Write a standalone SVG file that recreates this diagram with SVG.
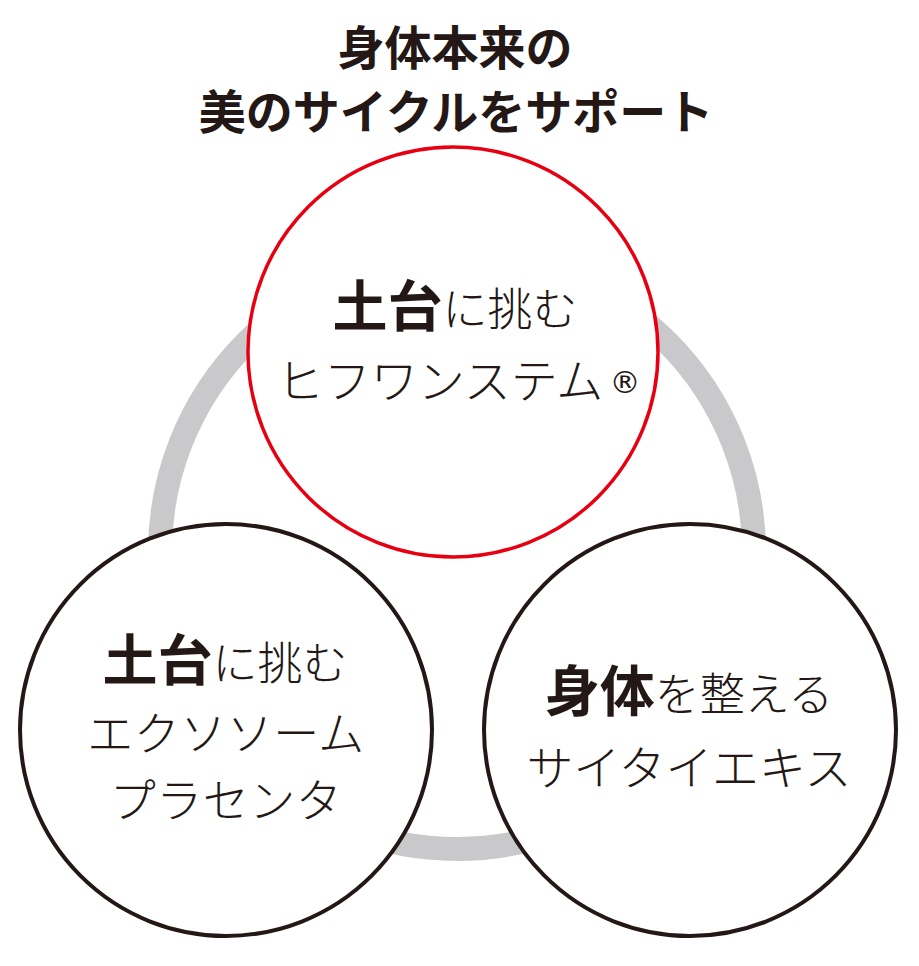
<svg xmlns="http://www.w3.org/2000/svg" width="919" height="966" viewBox="0 0 919 966">
<style>
text{font-family:"Noto Sans CJK JP","Noto Sans CJK SC",sans-serif;fill:#231815;text-anchor:middle}
.title{font-size:47px;font-weight:700}
.b{font-size:55px;font-weight:700}
.r{font-size:47px;font-weight:300}
.node{fill:#fff;stroke:#231815;stroke-width:4}
</style>
<rect width="919" height="966" fill="#fff"/>
<g id="title">
<text class="title" x="455" y="65">身体本来の</text>
<text class="title" x="456" y="129">美のサイクルをサポート</text>
</g>
<g id="connectors">
<circle cx="457" cy="552" r="297" fill="none" stroke="#c9c9cb" stroke-width="24"/>
</g>
<g id="node-top">
<circle cx="453" cy="352" r="205" fill="#fff" stroke="#e60012" stroke-width="3.5"/>
<text x="455" y="326"><tspan class="b">土台</tspan><tspan class="r" style="font-size:45px">に挑む</tspan></text>
<text class="r" x="440" y="398">ヒフワンステム</text>
<text x="625" y="393" style="font-family:'DejaVu Sans',sans-serif;font-size:31px">®</text>
</g>
<g id="node-left">
<circle class="node" cx="226" cy="730" r="206"/>
<text x="225" y="680"><tspan class="b">土台</tspan><tspan class="r" style="font-size:45px">に挑む</tspan></text>
<text class="r" x="226" y="750" style="font-size:46px;letter-spacing:0.5px">エクソソーム</text>
<text class="r" x="226" y="817" style="font-size:46px;letter-spacing:0.5px">プラセンタ</text>
</g>
<g id="node-right">
<circle class="node" cx="690" cy="730" r="206"/>
<text x="689" y="711"><tspan class="b">身体</tspan><tspan class="r" style="font-size:45px">を整える</tspan></text>
<text class="r" x="689" y="785">サイタイエキス</text>
</g>
</svg>
